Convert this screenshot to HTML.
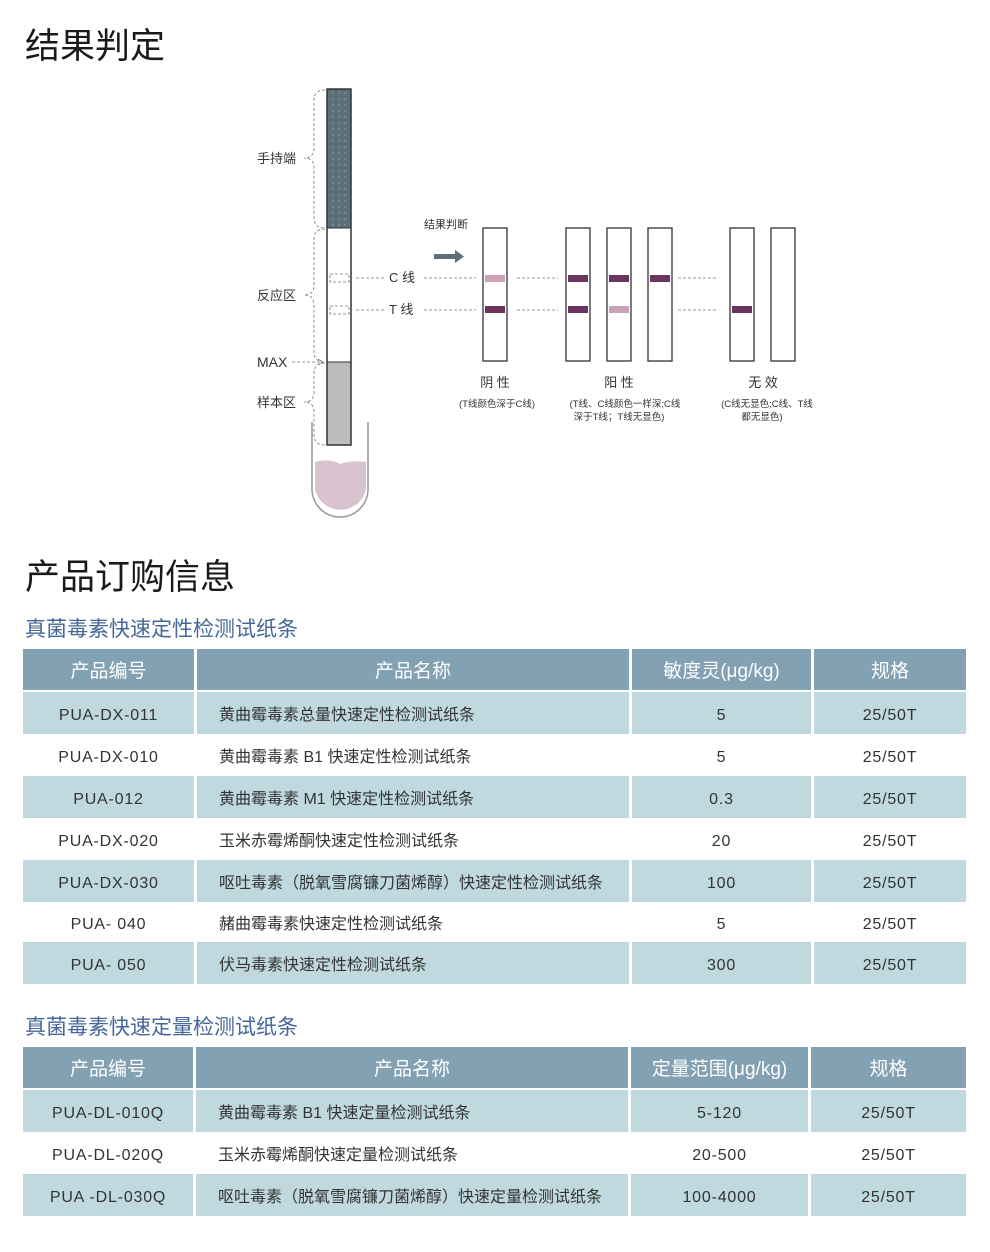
<!DOCTYPE html>
<html><head><meta charset="utf-8"><style>
body{margin:0;width:990px;height:1252px;background:#fff;position:relative;font-family:"Liberation Sans","Noto Sans CJK SC",sans-serif;overflow:hidden}
.t{position:absolute;white-space:nowrap}
.h1{font-size:35px;color:#1a1a1a;left:25px;line-height:1}
.h2{font-size:21px;color:#46679a;left:25px;line-height:1}
.cell{position:absolute;display:flex;align-items:center;font-size:16px;color:#333;white-space:nowrap;box-sizing:border-box}
.hd{background:#82a2b3;color:#fff;font-size:19px;justify-content:center}
.bd{background:#bfd9df}
.c{justify-content:center;padding-top:5px;letter-spacing:0.8px}
.l{padding-left:22px}
</style></head><body>
<div class="t h1" style="top:29px">结果判定</div>
<div class="t h1" style="top:560px">产品订购信息</div>

<svg style="position:absolute;left:0;top:0" width="990" height="540">
<defs><pattern id="dots" width="6" height="6" patternUnits="userSpaceOnUse"><circle cx="3" cy="3" r="0.7" fill="#9aabb3"/></pattern></defs>
<path d="M312 422 V489 A28 28 0 0 0 368 489 V422" fill="none" stroke="#999" stroke-width="1.5"/>
<path d="M315 462 Q330 458 340 464 Q352 460 366 462 V489 A26 26 0 0 1 315 489 Z" fill="#d9c3cf"/>
<rect x="327" y="89" width="24" height="139" fill="#5c707a"/>
<rect x="327" y="89" width="24" height="139" fill="url(#dots)"/>
<rect x="327" y="228" width="24" height="134" fill="#fff"/>
<rect x="327" y="362" width="24" height="83" fill="#bdbdbd"/>
<rect x="327" y="89" width="24" height="356" fill="none" stroke="#333" stroke-width="1.5"/>
<line x1="327" y1="362" x2="351" y2="362" stroke="#333" stroke-width="1"/>
<line x1="327" y1="228" x2="351" y2="228" stroke="#333" stroke-width="1"/>
<g stroke="#777" stroke-dasharray="3,2" fill="none" stroke-width="0.8">
<rect x="330" y="274" width="19" height="8"/><rect x="330" y="306" width="19" height="8"/>
<line x1="356" y1="278" x2="385" y2="278"/><line x1="356" y1="310" x2="385" y2="310"/>
<line x1="424" y1="278" x2="476" y2="278"/><line x1="424" y1="310" x2="476" y2="310"/>
<line x1="517" y1="278" x2="558" y2="278"/><line x1="517" y1="310" x2="558" y2="310"/>
<line x1="678" y1="278" x2="718" y2="278"/><line x1="678" y1="310" x2="718" y2="310"/>
<line x1="292" y1="362" x2="322" y2="362"/>
<path d="M325 90 Q314 90 314 100 V148 Q314 158 304 158 Q314 158 314 168 V218 Q314 228 325 228"/>
<path d="M325 229 Q314 229 314 239 V285 Q314 295 304 295 Q314 295 314 305 V352 Q314 362 325 362"/>
<path d="M325 363 Q314 363 314 373 V392 Q314 402 304 402 Q314 402 314 412 V435 Q314 445 325 445"/>
</g>
<path d="M318 359 L323 362 L318 365" fill="none" stroke="#777" stroke-width="0.8"/>
<rect x="434" y="254" width="22" height="5" fill="#5c707a"/><path d="M455 250 L464 256.5 L455 263 Z" fill="#5c707a"/>
<g fill="#fff" stroke="#333" stroke-width="1.3">
<rect x="483" y="228" width="24" height="133"/><rect x="566" y="228" width="24" height="133"/><rect x="607" y="228" width="24" height="133"/><rect x="648" y="228" width="24" height="133"/><rect x="730" y="228" width="24" height="133"/><rect x="771" y="228" width="24" height="133"/>
</g>
<g fill="#6b3560">
<rect x="485" y="306" width="20" height="7"/><rect x="568" y="275" width="20" height="7"/><rect x="568" y="306" width="20" height="7"/><rect x="609" y="275" width="20" height="7"/><rect x="650" y="275" width="20" height="7"/><rect x="732" y="306" width="20" height="7"/>
</g>
<g fill="#c9a3b9"><rect x="485" y="275" width="20" height="7"/><rect x="609" y="306" width="20" height="7"/></g>
<g font-family="Liberation Sans,Noto Sans CJK SC,sans-serif" fill="#333">
<text x="257" y="163" font-size="13">手持端</text>
<text x="257" y="300" font-size="13">反应区</text>
<text x="257" y="367" font-size="14">MAX</text>
<text x="257" y="407" font-size="13">样本区</text>
<text x="389" y="282" font-size="13">C 线</text>
<text x="389" y="314" font-size="13">T 线</text>
<text x="424" y="228" font-size="11">结果判断</text>
<text x="495" y="387" font-size="13" text-anchor="middle">阴 性</text>
<text x="619" y="387" font-size="13" text-anchor="middle">阳 性</text>
<text x="763" y="387" font-size="13" text-anchor="middle">无 效</text>
<text x="497" y="407" font-size="9.5" text-anchor="middle">(T线颜色深于C线)</text>
<text x="625" y="407" font-size="9.5" text-anchor="middle">(T线、C线颜色一样深;C线</text>
<text x="619" y="420" font-size="9.5" text-anchor="middle">深于T线；T线无显色)</text>
<text x="767" y="407" font-size="9.5" text-anchor="middle">(C线无显色;C线、T线</text>
<text x="762" y="420" font-size="9.5" text-anchor="middle">都无显色)</text>
</g>
</svg>

<div class="t h2" style="top:619px">真菌毒素快速定性检测试纸条</div>
<div class="t h2" style="top:1017px">真菌毒素快速定量检测试纸条</div>

<div class="cell hd" style="left:23px;top:649px;width:171px;height:41px">产品编号</div>
<div class="cell hd" style="left:197px;top:649px;width:432px;height:41px">产品名称</div>
<div class="cell hd" style="left:632px;top:649px;width:179px;height:41px">敏度灵(μg/kg)</div>
<div class="cell hd" style="left:814px;top:649px;width:152px;height:41px">规格</div>

<div class="cell bd c" style="left:23px;top:692px;width:171px;height:42px">PUA-DX-011</div>
<div class="cell bd l" style="left:197px;top:692px;width:432px;height:42px">黄曲霉毒素总量快速定性检测试纸条</div>
<div class="cell bd c" style="left:632px;top:692px;width:179px;height:42px">5</div>
<div class="cell bd c" style="left:814px;top:692px;width:152px;height:42px">25/50T</div>

<div class="cell c" style="left:23px;top:734px;width:171px;height:42px">PUA-DX-010</div>
<div class="cell l" style="left:197px;top:734px;width:432px;height:42px">黄曲霉毒素 B1 快速定性检测试纸条</div>
<div class="cell c" style="left:632px;top:734px;width:179px;height:42px">5</div>
<div class="cell c" style="left:814px;top:734px;width:152px;height:42px">25/50T</div>

<div class="cell bd c" style="left:23px;top:776px;width:171px;height:42px">PUA-012</div>
<div class="cell bd l" style="left:197px;top:776px;width:432px;height:42px">黄曲霉毒素 M1 快速定性检测试纸条</div>
<div class="cell bd c" style="left:632px;top:776px;width:179px;height:42px">0.3</div>
<div class="cell bd c" style="left:814px;top:776px;width:152px;height:42px">25/50T</div>

<div class="cell c" style="left:23px;top:818px;width:171px;height:42px">PUA-DX-020</div>
<div class="cell l" style="left:197px;top:818px;width:432px;height:42px">玉米赤霉烯酮快速定性检测试纸条</div>
<div class="cell c" style="left:632px;top:818px;width:179px;height:42px">20</div>
<div class="cell c" style="left:814px;top:818px;width:152px;height:42px">25/50T</div>

<div class="cell bd c" style="left:23px;top:860px;width:171px;height:42px">PUA-DX-030</div>
<div class="cell bd l" style="left:197px;top:860px;width:432px;height:42px">呕吐毒素（脱氧雪腐镰刀菌烯醇）快速定性检测试纸条</div>
<div class="cell bd c" style="left:632px;top:860px;width:179px;height:42px">100</div>
<div class="cell bd c" style="left:814px;top:860px;width:152px;height:42px">25/50T</div>

<div class="cell c" style="left:23px;top:902px;width:171px;height:40px">PUA- 040</div>
<div class="cell l" style="left:197px;top:902px;width:432px;height:40px">赭曲霉毒素快速定性检测试纸条</div>
<div class="cell c" style="left:632px;top:902px;width:179px;height:40px">5</div>
<div class="cell c" style="left:814px;top:902px;width:152px;height:40px">25/50T</div>

<div class="cell bd c" style="left:23px;top:942px;width:171px;height:42px">PUA- 050</div>
<div class="cell bd l" style="left:197px;top:942px;width:432px;height:42px">伏马毒素快速定性检测试纸条</div>
<div class="cell bd c" style="left:632px;top:942px;width:179px;height:42px">300</div>
<div class="cell bd c" style="left:814px;top:942px;width:152px;height:42px">25/50T</div>

<div class="cell hd" style="left:23px;top:1047px;width:170px;height:41px">产品编号</div>
<div class="cell hd" style="left:196px;top:1047px;width:432px;height:41px">产品名称</div>
<div class="cell hd" style="left:631px;top:1047px;width:177px;height:41px">定量范围(μg/kg)</div>
<div class="cell hd" style="left:811px;top:1047px;width:155px;height:41px">规格</div>

<div class="cell bd c" style="left:23px;top:1090px;width:170px;height:42px">PUA-DL-010Q</div>
<div class="cell bd l" style="left:196px;top:1090px;width:432px;height:42px">黄曲霉毒素 B1 快速定量检测试纸条</div>
<div class="cell bd c" style="left:631px;top:1090px;width:177px;height:42px">5-120</div>
<div class="cell bd c" style="left:811px;top:1090px;width:155px;height:42px">25/50T</div>

<div class="cell c" style="left:23px;top:1132px;width:170px;height:42px">PUA-DL-020Q</div>
<div class="cell l" style="left:196px;top:1132px;width:432px;height:42px">玉米赤霉烯酮快速定量检测试纸条</div>
<div class="cell c" style="left:631px;top:1132px;width:177px;height:42px">20-500</div>
<div class="cell c" style="left:811px;top:1132px;width:155px;height:42px">25/50T</div>

<div class="cell bd c" style="left:23px;top:1174px;width:170px;height:42px">PUA -DL-030Q</div>
<div class="cell bd l" style="left:196px;top:1174px;width:432px;height:42px">呕吐毒素（脱氧雪腐镰刀菌烯醇）快速定量检测试纸条</div>
<div class="cell bd c" style="left:631px;top:1174px;width:177px;height:42px">100-4000</div>
<div class="cell bd c" style="left:811px;top:1174px;width:155px;height:42px">25/50T</div>
</body></html>
